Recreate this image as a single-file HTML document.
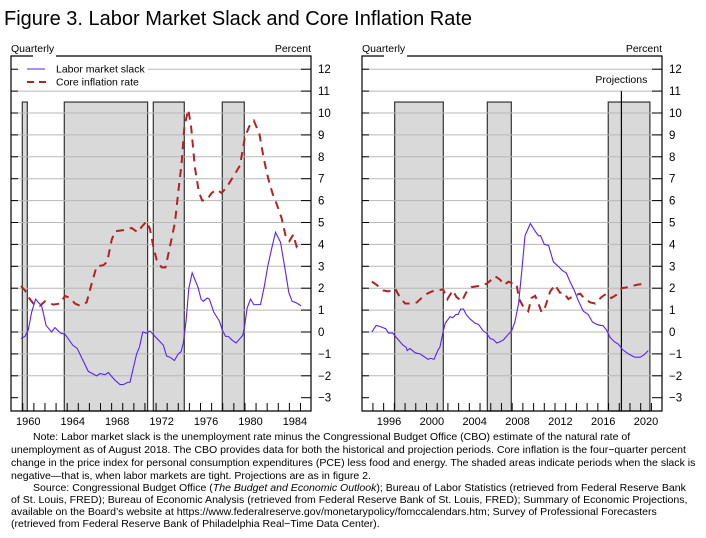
<!DOCTYPE html>
<html><head><meta charset="utf-8"><style>
body{margin:0;background:#fff;width:706px;height:538px;overflow:hidden;font-family:"Liberation Sans",sans-serif}
.note{position:absolute;left:11px;font-size:10.55px;white-space:nowrap;color:#000;line-height:12px}
</style></head><body>
<svg id="chart" width="706" height="538" style="position:absolute;left:0;top:0" font-family="Liberation Sans, sans-serif">
<text x="4" y="25" font-size="20">Figure 3.  Labor Market Slack and Core Inflation Rate</text>
<g id="left"></g><g id="right"></g>
</svg>
<div class="note" style="top:431px;left:33px">Note:  Labor market slack is the unemployment rate minus the Congressional Budget Office (CBO) estimate of the natural rate of</div>
<div class="note" style="top:444px">unemployment as of August 2018.  The CBO provides data for both the historical and projection periods.  Core inflation is the four−quarter percent</div>
<div class="note" style="top:457px">change in the price index for personal consumption expenditures (PCE) less food and energy.  The shaded areas indicate periods when the slack is</div>
<div class="note" style="top:470px">negative—that is, when labor markets are tight.  Projections are as in figure 2.</div>
<div class="note" style="top:482px;left:33px">Source:  Congressional Budget Office (<i>The Budget and Economic Outlook</i>); Bureau of Labor Statistics (retrieved from Federal Reserve Bank</div>
<div class="note" style="top:494px">of St. Louis, FRED); Bureau of Economic Analysis (retrieved from Federal Reserve Bank of St. Louis, FRED); Summary of Economic Projections,</div>
<div class="note" style="top:506px">available on the Board’s website at https://www.federalreserve.gov/monetarypolicy/fomccalendars.htm; Survey of Professional Forecasters</div>
<div class="note" style="top:518px">(retrieved from Federal Reserve Bank of Philadelphia Real−Time Data Center).</div>
<script>
const yTicks=[-3,-2,-1,0,1,2,3,4,5,6,7,8,9,10,11,12];
const leftYearLabels=[1960,1964,1968,1972,1976,1980,1984];
const rightYearLabels=[1996,2000,2004,2008,2012,2016,2020];
const leftShade=[[1959.46,1959.91],[1963.24,1970.74],[1971.25,1974.04],[1977.46,1979.44]];
const rightShade=[[1996.53,2001.07],[2005.18,2007.42],[2016.47,2020.36]];
const leftSlackYears=[1959.34,1959.7,1960,1960.3,1960.66,1960.9,1961.2,1961.6,1962.1,1962.4,1962.9,1963.3,1964,1964.4,1965.4,1966.15,1966.45,1966.9,1967.2,1967.8,1968.25,1968.55,1968.95,1969.15,1969.75,1970,1970.3,1970.65,1970.95,1971.4,1972.15,1972.45,1972.75,1973.15,1973.5,1973.75,1973.95,1974.2,1974.45,1974.75,1975.15,1975.3,1975.55,1975.75,1976.1,1976.3,1976.7,1977.2,1977.45,1977.75,1978,1978.3,1978.7,1979.05,1979.3,1979.45,1979.7,1980,1980.3,1980.9,1981.25,1981.55,1981.9,1982.25,1982.7,1983.1,1983.45,1983.75,1984.05,1984.55];
const leftSlack=[-0.3,-0.2,0.1,0.9,1.5,1.35,1.2,0.3,0.0,0.2,-0.05,-0.1,-0.6,-0.75,-1.8,-2.0,-1.9,-1.95,-1.85,-2.2,-2.4,-2.4,-2.3,-2.3,-1.0,-0.7,0.0,-0.05,0.05,-0.2,-0.6,-1.1,-1.15,-1.3,-1.0,-0.9,-0.5,0.5,2.0,2.7,2.2,2.0,1.5,1.4,1.55,1.5,0.9,0.5,0.1,-0.2,-0.2,-0.35,-0.5,-0.3,-0.15,0.2,1.1,1.5,1.25,1.25,2.1,3.0,3.8,4.55,4.1,2.9,1.8,1.4,1.35,1.2];
const leftInflYears=[1959.34,1959.7,1960,1960.45,1961.05,1961.5,1962.25,1962.85,1963.3,1963.75,1964.2,1964.65,1965.25,1965.7,1966.15,1966.75,1967.1,1967.5,1967.8,1968.55,1969.3,1969.85,1970.2,1970.65,1970.95,1971.25,1971.55,1972,1972.35,1972.75,1973.2,1973.5,1973.8,1974.05,1974.4,1974.65,1975,1975.35,1975.65,1976.1,1976.5,1976.95,1977.4,1977.85,1978.45,1979.05,1979.5,1979.9,1980.3,1980.8,1981.2,1981.6,1982,1982.35,1982.8,1983.2,1983.5,1983.85,1984.15,1984.45];
const leftInfl=[2.1,1.9,1.6,1.3,1.2,1.4,1.25,1.3,1.65,1.55,1.3,1.2,1.35,2.2,3.0,3.05,3.2,4.2,4.6,4.65,4.75,4.55,4.8,5.05,4.7,3.9,3.3,2.95,2.95,3.9,5.0,6.4,7.7,9.4,10.15,9.4,7.5,6.4,6.0,6.05,6.35,6.5,6.35,6.6,7.1,7.6,8.9,9.4,9.65,9.05,7.9,7.0,6.3,5.85,5.2,4.3,4.15,4.45,3.9,4.1];
const rightSlackYears=[1994.4,1994.8,1995.15,1995.7,1995.95,1996.35,1996.85,1997.3,1997.6,1997.7,1997.95,1998.45,1998.9,1999.35,1999.65,1999.9,2000.2,2000.6,2000.75,2001.05,2001.25,2001.7,2001.95,2002.25,2002.45,2002.7,2002.95,2003.2,2003.55,2004.05,2004.35,2004.8,2005.1,2005.45,2005.75,2006.05,2006.35,2006.7,2007.15,2007.45,2007.75,2008.1,2008.4,2008.7,2009.2,2009.65,2009.95,2010.15,2010.5,2010.9,2011.35,2011.8,2012.2,2012.55,2012.9,2013.3,2013.7,2014.15,2014.6,2015,2015.4,2015.75,2015.95,2016.3,2016.65,2017.05,2017.4,2017.8,2018.35,2018.95,2019.45,2019.8,2020.2];
const rightSlack=[0.0,0.3,0.25,0.15,-0.05,-0.05,-0.35,-0.6,-0.7,-0.85,-0.75,-0.95,-1.0,-1.15,-1.25,-1.2,-1.25,-0.8,-0.7,0.0,0.4,0.7,0.65,0.8,0.8,1.05,1.05,0.8,0.6,0.4,0.35,0.05,-0.05,-0.3,-0.35,-0.5,-0.45,-0.35,-0.1,0.05,0.45,1.3,2.8,4.4,4.95,4.6,4.4,4.4,4.0,3.95,3.2,3.0,2.8,2.7,2.3,1.9,1.4,0.95,0.8,0.45,0.35,0.3,0.3,0.1,-0.25,-0.45,-0.55,-0.8,-1.0,-1.15,-1.15,-1.05,-0.85];
const rightInflYears=[1994.4,1994.85,1995.45,1995.95,1996.55,1997.0,1997.5,1997.95,1998.6,1999.35,2000,2000.6,2001.05,2001.45,2001.95,2002.3,2002.8,2003.2,2003.7,2004.35,2005.1,2005.6,2005.9,2006.35,2006.75,2007.15,2007.6,2007.9,2008.15,2008.55,2009,2009.3,2009.65,2009.95,2010.25,2010.55,2011.05,2011.5,2011.95,2012.3,2012.75,2013.2,2013.85,2014.3,2014.8,2015.25,2015.85,2016.3,2016.75,2017.25,2017.75,2018.35,2019.1,2019.75];
const rightInfl=[2.3,2.15,1.9,1.85,2.0,1.6,1.3,1.3,1.35,1.7,1.85,1.9,1.95,1.5,1.9,1.6,1.4,1.8,2.05,2.1,2.2,2.4,2.55,2.4,2.15,2.3,2.2,2.2,1.5,1.15,0.95,1.55,1.65,1.3,0.9,1.1,1.85,2.15,1.8,1.8,1.5,1.65,1.75,1.5,1.35,1.3,1.6,1.75,1.55,1.7,2.0,2.05,2.15,2.2];
const projectionYear=2017.7;

const NS='http://www.w3.org/2000/svg';
function mk(parent,tag,attrs){const e=document.createElementNS(NS,tag);for(const k in attrs)e.setAttribute(k,attrs[k]);parent.appendChild(e);return e;}
const yS=v=>332-v*21.9;
function panel(g,cfg){
  const {x0,x1,xs,labels,shade,sy,sv,iy,iv,legend,proj}=cfg;
  const top=56,bot=411;
  shade.forEach(s=>{const r=mk(g,'rect',{x:xs(s[0]),y:yS(10.5),width:xs(s[1])-xs(s[0]),height:bot-yS(10.5),fill:'#d9d9d9',stroke:'#333','stroke-width':1.2});
    
    });
  yTicks.forEach(v=>{
    if(v>-3){const gx=(legend&&v===12)?148:x0;const l=mk(g,'line',{x1:gx,x2:x1,y1:yS(v),y2:yS(v),stroke:'#b8b8b8','stroke-width':1});
      
      }
    mk(g,'line',{x1:x0,x2:x0+7,y1:yS(v),y2:yS(v),stroke:'#000'});
    mk(g,'line',{x1:x1-10,x2:x1,y1:yS(v),y2:yS(v),stroke:'#000'});
    const t=mk(g,'text',{x:x1+7,y:yS(v)+4,'font-size':11.5});t.textContent=v<0?'−'+(-v):String(v);
    
    
  });
  for(let y=Math.floor(labels[0])-1;y<=labels[labels.length-1]+1;y++){const px=xs(y-0.5);if(px>x0+1&&px<x1-1)mk(g,'line',{x1:px,x2:px,y1:bot-8,y2:bot,stroke:'#000'});}
  labels.forEach(y=>{const t=mk(g,'text',{x:xs(y),y:425,'font-size':11,'text-anchor':'middle'});t.textContent=y;
    
    });
  mk(g,'path',{d:`M${x0+22},${top}H${x0} V${bot} H${x1} V${top} H${x1-38}`,fill:'none',stroke:'#000','stroke-width':1.2});
  mk(g,'line',{x1:x0+45,x2:x1-38,y1:top,y2:top,stroke:'#000','stroke-width':1.2});
  const q=mk(g,'text',{x:x0,y:52,'font-size':10.5});q.textContent='Quarterly';
  
  
  const p=mk(g,'text',{x:x1,y:52,'font-size':10.5,'text-anchor':'end'});p.textContent='Percent';
  
  
  if(proj){const pl=mk(g,'line',{x1:xs(proj),x2:xs(proj),y1:yS(11),y2:bot,stroke:'#000','stroke-width':1.2});
    
    
    const pt=mk(g,'text',{x:xs(proj),y:83,'font-size':10.5,'text-anchor':'middle'});pt.textContent='Projections';
    
    }
  const inf=mk(g,'polyline',{points:iy.map((y,i)=>xs(y)+','+yS(iv[i])).join(' '),fill:'none',stroke:'#b22222','stroke-width':2,'stroke-dasharray':'8,6'});
  
  
  const sl=mk(g,'polyline',{points:sy.map((y,i)=>xs(y)+','+yS(sv[i])).join(' '),fill:'none',stroke:'#5522ff','stroke-width':1.1});
  
  
  if(legend){
    mk(g,'line',{x1:27,x2:45,y1:69,y2:69,stroke:'#5522ff','stroke-width':1.1});
    const a=mk(g,'text',{x:56,y:72.5,'font-size':10.5});a.textContent='Labor market slack';
    
    
    mk(g,'line',{x1:27,x2:46,y1:82,y2:82,stroke:'#b22222','stroke-width':2,'stroke-dasharray':'7,5'});
    const b=mk(g,'text',{x:56,y:85.5,'font-size':10.5});b.textContent='Core inflation rate';
    
    
  }
}
const L=document.getElementById('left');
const R=document.getElementById('right');
panel(L,{x0:11,x1:311,xs:y=>28.3+(y-1960)*11.11,labels:leftYearLabels,shade:leftShade,sy:leftSlackYears,sv:leftSlack,iy:leftInflYears,iv:leftInfl,legend:true});
panel(R,{x0:362,x1:662,xs:y=>389+(y-1996)*10.71,labels:rightYearLabels,shade:rightShade,sy:rightSlackYears,sv:rightSlack,iy:rightInflYears,iv:rightInfl,legend:false,proj:projectionYear});
</script>
</body></html>
